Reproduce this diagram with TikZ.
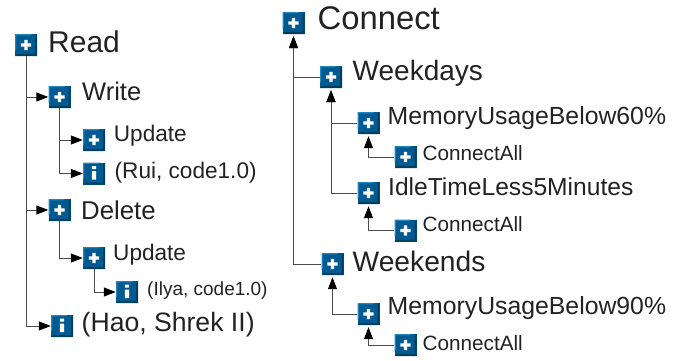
\documentclass[tikz,border=0pt]{standalone}
\usepackage{fontspec}
\setmainfont{Liberation Sans}
\usetikzlibrary{positioning,arrows.meta}
\definecolor{iconblue}{HTML}{005A92}
\definecolor{iconlight}{HTML}{1E86BE}
\definecolor{icondark}{HTML}{003F5C}
\definecolor{inktext}{HTML}{222222}
\newcommand{\iconbevel}{%
  \fill[icondark] (11pt,11pt) -- (11pt,-11pt) -- (-11pt,-11pt) -- (-9pt,-9pt) -- (9pt,-9pt) -- (9pt,9pt) -- cycle;
  \fill[iconlight] (-11pt,-6pt) -- (-11pt,11pt) -- (6pt,11pt) -- (4pt,9.7pt) -- (-9.7pt,9.7pt) -- (-9.7pt,-4pt) -- cycle;
}
\tikzset{
  iconplus/.style={rectangle, minimum size=22pt, inner sep=0pt, fill=iconblue,
    path picture={\begin{scope}[shift={(path picture bounding box.center)}]
      \iconbevel
      \fill[white] (-5.2pt,-1.6pt) rectangle (5.2pt,1.6pt) (-1.6pt,-5.2pt) rectangle (1.6pt,5.2pt);
    \end{scope}}},
  iconinfo/.style={rectangle, minimum size=22pt, inner sep=0pt, fill=iconblue,
    path picture={\begin{scope}[shift={(path picture bounding box.center)}]
      \iconbevel
      \fill[white] (-2.2pt,4.5pt) rectangle (2.2pt,7.5pt) (-2.2pt,-6pt) rectangle (2.2pt,2.5pt);
    \end{scope}}},
  lab/.style={anchor=base west, inner sep=0pt, text=inktext, font=\fontsize{#1}{#1}\selectfont},
  branch/.style={draw=black!70, line width=1pt, -{Triangle[length=12pt,width=9pt,black]}},
  across/.style={branch, to path={(\tikztostart) |- (\tikztotarget)}},
  upward/.style={branch, shorten >=2pt, to path={(\tikztostart) -| (\tikztotarget)}}
}
\begin{document}
\begin{tikzpicture}[x=1pt,y=1pt,on grid]
  \useasboundingbox (0,0) rectangle (689,-360);
  \node[iconplus] (read) at (26,-45) {};
  \node[iconplus] (write) [below right=52pt and 33.5pt of read] {};
  \node[iconplus] (update_a) [below right=43pt and 34.5pt of write] {};
  \node[iconinfo] (rui) [below=33.5pt of update_a] {};
  \node[iconplus] (delete) [below=113pt of write] {};
  \node[iconplus] (update_b) [below right=48pt and 34.5pt of delete] {};
  \node[iconinfo] (ilya) [below right=34pt and 33pt of update_b] {};
  \node[iconinfo] (hao) [below right=281pt and 36pt of read] {};

  \node[iconplus] (connect) at (293.5,-23) {};
  \node[iconplus] (weekdays) [below right=54pt and 37.5pt of connect] {};
  \node[iconplus] (mem_a) [below right=46pt and 37.5pt of weekdays] {};
  \node[iconplus] (all_a) [below right=34pt and 37pt of mem_a] {};
  \node[iconplus] (idle) [below=70pt of mem_a] {};
  \node[iconplus] (all_b) [below right=37.5pt and 37pt of idle] {};
  \node[iconplus] (weekends) [below right=241pt and 39pt of connect] {};
  \node[iconplus] (mem_b) [below right=50pt and 36pt of weekends] {};
  \node[iconplus] (all_c) [below right=31pt and 37pt of mem_b] {};

  \node (read_l) [below right=7pt and 22pt of read, lab=30] {Read};
  \node (write_l) [below right=3.5pt and 22.5pt of write, lab=25.5] {Write};
  \node (update_al) [below right=1pt and 19.7pt of update_a, lab=22.6] {Update};
  \node (rui_l) [below right=4.5pt and 20.5pt of rui, lab=22.6] {(Rui, code1.0)};
  \node (delete_l) [below right=9pt and 21.5pt of delete, lab=25.8] {Delete};
  \node (update_bl) [below right=2pt and 19pt of update_b, lab=22.6] {Update};
  \node (ilya_l) [below right=3pt and 20pt of ilya, lab=19] {(Ilya, code1.0)};
  \node (hao_l) [below right=5pt and 19.5pt of hao, lab=26.6] {(Hao, Shrek II)};

  \node (connect_l) [below right=6pt and 24pt of connect, lab=32.8] {Connect};
  \node (weekdays_l) [below right=3pt and 21.5pt of weekdays, lab=28] {Weekdays};
  \node (mem_al) [below right=1pt and 19pt of mem_a, lab=24.8] {MemoryUsageBelow60\%};
  \node (all_al) [below right=3pt and 17pt of all_a, lab=20.7] {ConnectAll};
  \node (idle_l) [below right=2pt and 19.5pt of idle, lab=24.6] {IdleTimeLess5Minutes};
  \node (all_bl) [below right=0.5pt and 17pt of all_b, lab=20.7] {ConnectAll};
  \node (weekends_l) [below right=7pt and 20pt of weekends, lab=28.2] {Weekends};
  \node (mem_bl) [below right=0pt and 19pt of mem_b, lab=24.8] {MemoryUsageBelow90\%};
  \node (all_cl) [below right=5pt and 17pt of all_c, lab=20.7] {ConnectAll};

  \path
    (read) edge [across] (write)
           edge [across] (delete)
           edge [across] (hao)
    (write) edge [across] (update_a)
            edge [across] (rui)
    (delete) edge [across] (update_b)
    (update_b) edge [across] (ilya);
  \path
    (weekdays) edge [upward] (connect)
    (weekends) edge [upward] (connect)
    (mem_a) edge [upward] (weekdays)
    (idle) edge [upward] (weekdays)
    (all_a) edge [upward] (mem_a)
    (all_b) edge [upward] (idle)
    (mem_b) edge [upward] (weekends)
    (all_c) edge [upward] (mem_b);
\end{tikzpicture}
\end{document}
